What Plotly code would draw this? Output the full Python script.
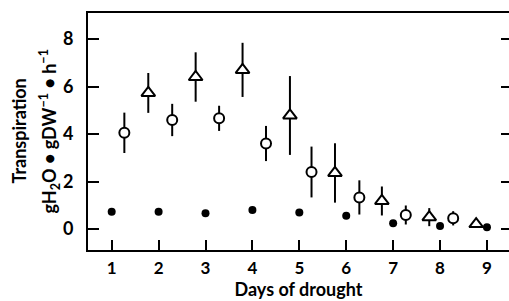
import plotly.graph_objects as go

# Data
days_control = [1, 2, 3, 4, 5, 6, 7, 8, 9]
trans_control = [0.73, 0.73, 0.66, 0.80, 0.70, 0.56, 0.24, 0.13, 0.07]

days_circle = [1.27, 2.29, 3.29, 4.29, 5.26, 6.28, 7.27, 8.28]
trans_circle = [4.05, 4.59, 4.66, 3.60, 2.40, 1.33, 0.59, 0.45]
err_circle = [0.85, 0.68, 0.53, 0.74, 1.07, 0.72, 0.40, 0.30]

days_tri = [1.78, 2.79, 3.79, 4.80, 5.76, 6.76, 7.77, 8.77]
trans_tri = [5.73, 6.40, 6.70, 4.78, 2.36, 1.18, 0.50, 0.21]
err_tri = [0.84, 1.04, 1.14, 1.66, 1.25, 0.61, 0.38, 0.10]

x_ticks = [1, 2, 3, 4, 5, 6, 7, 8, 9]
y_ticks = [0, 2, 4, 6, 8]

FONT = "Lato"
INK = "black"
Y_RANGE = [-0.884, 9.095]

fig = go.Figure()

fig.add_trace(go.Scatter(
    x=days_circle, y=trans_circle, mode="markers",
    error_y=dict(type="data", array=err_circle, visible=True,
                 thickness=2, width=0, color=INK),
    marker=dict(symbol="circle", size=10, color="white",
                line=dict(color=INK, width=2)),
    showlegend=False,
))

fig.add_trace(go.Scatter(
    x=days_tri, y=trans_tri, mode="markers",
    error_y=dict(type="data", array=err_tri, visible=True,
                 thickness=2, width=0, color=INK),
    marker=dict(symbol="triangle-up", size=12, color="white",
                line=dict(color=INK, width=2)),
    showlegend=False,
))

fig.add_trace(go.Scatter(
    x=days_control, y=trans_control, mode="markers",
    marker=dict(symbol="circle", size=8, color=INK),
    showlegend=False,
))

# invisible trace to carry the right-hand tick marks
fig.add_trace(go.Scatter(x=[days_control[0]], y=[trans_control[0]], yaxis="y2",
                         mode="markers", marker=dict(opacity=0),
                         showlegend=False, hoverinfo="skip"))

fig.update_layout(
    width=509, height=301,
    margin=dict(l=88, r=0, t=13, b=51, autoexpand=False),
    paper_bgcolor="white", plot_bgcolor="white",
    font=dict(family=FONT, color=INK, size=17, weight="bold"),
    xaxis=dict(
        range=[0.495, 9.47], tickvals=x_ticks, ticks="inside", ticklen=10,
        tickwidth=2, tickcolor=INK, showline=True, linewidth=2, linecolor=INK,
        mirror=True, showgrid=False, zeroline=False, automargin=False,
        ticklabelstandoff=2,
        title=dict(text="Days of drought", standoff=6,
                   font=dict(size=18, family=FONT, weight="bold")),
        tickfont=dict(size=17, family=FONT, weight="bold"),
    ),
    yaxis=dict(
        range=Y_RANGE, tickvals=y_ticks, ticks="inside", ticklen=11,
        tickwidth=2, tickcolor=INK, showline=True, linewidth=2, linecolor=INK,
        showgrid=False, zeroline=False, ticklabelstandoff=9, automargin=False,
        tickfont=dict(size=18, family=FONT, weight="bold"),
    ),
    yaxis2=dict(
        overlaying="y", side="right", range=Y_RANGE, tickvals=y_ticks,
        ticks="inside", ticklen=8, tickwidth=2, tickcolor=INK,
        showline=False, showgrid=False, zeroline=False, showticklabels=False,
        automargin=False,
    ),
    annotations=[
        dict(text="Transpiration", xref="paper", yref="paper",
             x=(18 - 88) / 421, y=0.5, textangle=-90, showarrow=False,
             xanchor="center", yanchor="middle",
             font=dict(size=18, family=FONT, weight="bold")),
        dict(text="gH<sub>2</sub>O • gDW<sup>−1</sup> • h<sup>−1</sup>",
             xref="paper", yref="paper",
             x=(49 - 88) / 421, y=0.5, textangle=-90, showarrow=False,
             xanchor="center", yanchor="middle",
             font=dict(size=18, family=FONT, weight="bold")),
    ],
)

fig.write_html(
    "out.html",
    config={"displayModeBar": False},
    post_script="document.body.style.margin='0';document.body.style.overflow='hidden';",
)
